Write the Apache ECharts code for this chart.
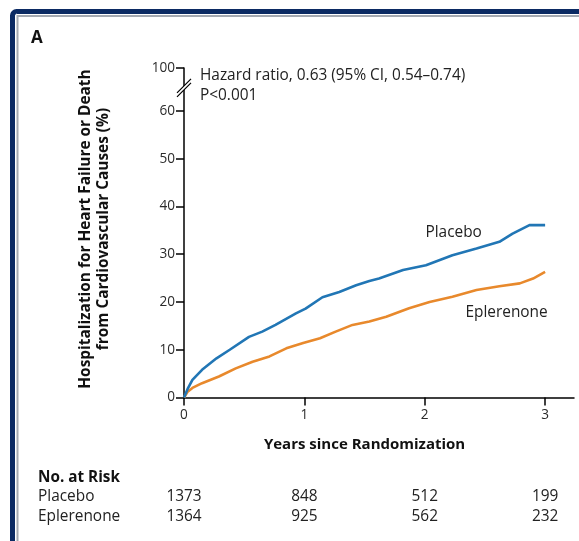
<!DOCTYPE html>
<html><head><meta charset="utf-8">
<script src="https://cdn.jsdelivr.net/npm/echarts@6/dist/echarts.min.js"></script>
<style>html,body{margin:0;padding:0;background:#fff}#c{width:579px;height:541px}</style>
</head><body><div id="c"></div>
<script>
// ---- data ----
const xTicks = [0, 1, 2, 3];
const yTicks = [0, 10, 20, 30, 40, 50, 60];
const yBreakTopLabel = 100;      // label shown at top of broken axis
const yBreakGap = 9;             // axis units used to draw the 60 -> 100 break
const placeboT = [0, 0.03, 0.07, 0.15, 0.27, 0.38, 0.54, 0.65, 0.76, 0.93, 1.01, 1.15, 1.29, 1.43, 1.54, 1.62, 1.82, 2.01, 2.23, 2.43, 2.62, 2.73, 2.87, 3.0];
const placeboV = [0, 1.8, 3.7, 5.8, 8.2, 10.0, 12.7, 13.8, 15.2, 17.6, 18.6, 21.0, 22.1, 23.5, 24.4, 24.9, 26.7, 27.7, 29.8, 31.2, 32.6, 34.3, 36.1, 36.1];
const eplerT = [0, 0.03, 0.07, 0.15, 0.29, 0.43, 0.57, 0.71, 0.85, 0.99, 1.13, 1.26, 1.40, 1.54, 1.68, 1.87, 2.04, 2.23, 2.43, 2.62, 2.79, 2.90, 3.0];
const eplerV = [0, 1.2, 2.0, 3.0, 4.4, 6.1, 7.5, 8.6, 10.3, 11.4, 12.4, 13.8, 15.2, 15.9, 16.9, 18.7, 20.0, 21.1, 22.5, 23.3, 23.9, 24.9, 26.3];
const riskRows = ['Placebo', 'Eplerenone'];
const riskPlacebo = [1373, 848, 512, 199];
const riskEplerenone = [1364, 925, 562, 232];

const FONT = 'Open Sans';
const BLUE = '#2176b5', ORANGE = '#e8892c', NAVY = '#0b2a63';
const yMax = yTicks[yTicks.length - 1] + yBreakGap;

const chart = echarts.init(document.getElementById('c'));
const zip = (a, b) => a.map((v, i) => [v, b[i]]);

chart.setOption({
  animation: false,
  grid: { left: 184, top: 68, right: 5, bottom: 143.5, containLabel: false },
  xAxis: {
    type: 'value', min: 0, max: 3.24, interval: 1,
    axisLine: { lineStyle: { color: '#000', width: 1.5 } },
    axisTick: { length: 8, lineStyle: { color: '#000', width: 1.5 }, customValues: xTicks },
    axisLabel: { margin: 11, fontFamily: FONT, fontSize: 13.6, color: '#2b2b2b', customValues: xTicks },
    splitLine: { show: false }
  },
  yAxis: {
    type: 'value', min: 0, max: yMax, interval: 10,
    axisLine: { show: true, lineStyle: { color: '#000', width: 1.5 } },
    axisTick: { show: true, length: 8, lineStyle: { color: '#000', width: 1.5 }, customValues: yTicks.concat([yMax]) },
    axisLabel: {
      margin: 9, fontFamily: FONT, fontSize: 13.6, color: '#2b2b2b',
      customValues: yTicks.concat([yMax]),
      formatter: v => (v === yMax ? String(yBreakTopLabel) : String(v))
    },
    splitLine: { show: false }
  },
  series: [
    { name: 'Placebo', type: 'line', data: zip(placeboT, placeboV), showSymbol: false,
      lineStyle: { color: BLUE, width: 2.6 }, z: 3 },
    { name: 'Eplerenone', type: 'line', data: zip(eplerT, eplerV), showSymbol: false,
      lineStyle: { color: ORANGE, width: 2.6 }, z: 2 }
  ]
});

const px = (x, y) => chart.convertToPixel({ gridIndex: 0 }, [x, y]);
const txt = (x, y, s, o = {}) => ({
  type: 'text', x, y, z: 10,
  style: Object.assign({ text: s, fontFamily: FONT, fontSize: 15.4, fill: '#222', textVerticalAlign: 'middle' }, o)
});

const g = [];
// frame
g.push({ type: 'rect', shape: { x: 12.5, y: 11.5, width: 620, height: 600, r: 4 }, style: { fill: 'none', stroke: NAVY, lineWidth: 5 }, z: 1 });
g.push({ type: 'rect', shape: { x: 17.5, y: 16, width: 620, height: 600 }, style: { fill: 'none', stroke: '#a4a9b1', lineWidth: 2 }, z: 1 });
// panel letter
g.push(txt(31, 38, 'A', { fontSize: 17, fontWeight: 'bold', fill: '#111' }));
// axis break marks
const [ax] = px(0, 0);
const bY = px(0, yTicks[yTicks.length - 1] + yBreakGap * 0.55)[1];
g.push({ type: 'polygon', shape: { points: [[ax - 7, bY + 5.5], [ax + 7, bY - 8.5], [ax + 7, bY - 4.5], [ax - 7, bY + 9.5]] }, style: { fill: '#fff' }, z: 20 });
g.push({ type: 'line', shape: { x1: ax - 7, y1: bY + 5.5, x2: ax + 7, y2: bY - 8.5 }, style: { stroke: '#000', lineWidth: 1.3 }, z: 21 });
g.push({ type: 'line', shape: { x1: ax - 7, y1: bY + 9.5, x2: ax + 7, y2: bY - 4.5 }, style: { stroke: '#000', lineWidth: 1.3 }, z: 21 });
// annotations
g.push(txt(200, 76, 'Hazard ratio, 0.63 (95% CI, 0.54\u20130.74)'));
g.push(txt(200, 96, 'P<0.001'));
const pl = px(2.24, 34.5);
g.push(txt(pl[0], pl[1], 'Placebo', { textAlign: 'center' }));
const ep = px(2.68, 17.8);
g.push(txt(ep[0], ep[1], 'Eplerenone', { textAlign: 'center' }));
// axis titles
const xMid = (px(0, 0)[0] + px(3, 0)[0]) / 2;
g.push(txt(xMid, 445, 'Years since Randomization', { textAlign: 'center', fontWeight: 'bold', fontSize: 15, fill: '#111' }));
g.push({ type: 'text', x: 95, y: 229, rotation: Math.PI / 2, z: 10,
  style: { text: 'Hospitalization for Heart Failure or Death\nfrom Cardiovascular Causes (%)', fontFamily: FONT, fontSize: 15.4, fontWeight: 'bold', fill: '#111', textAlign: 'center', textVerticalAlign: 'middle', lineHeight: 18 } });
// number at risk
g.push(txt(38, 478, 'No. at Risk', { fontWeight: 'bold', fontSize: 15.3, fill: '#111' }));
const rows = [riskPlacebo, riskEplerenone];
rows.forEach((r, i) => {
  const y = 497 + i * 19.5;
  g.push(txt(38, y, riskRows[i]));
  r.forEach((n, j) => g.push(txt(px(xTicks[j], 0)[0], y, String(n), { textAlign: 'center' })));
});
chart.setOption({ graphic: g });
</script></body></html>
